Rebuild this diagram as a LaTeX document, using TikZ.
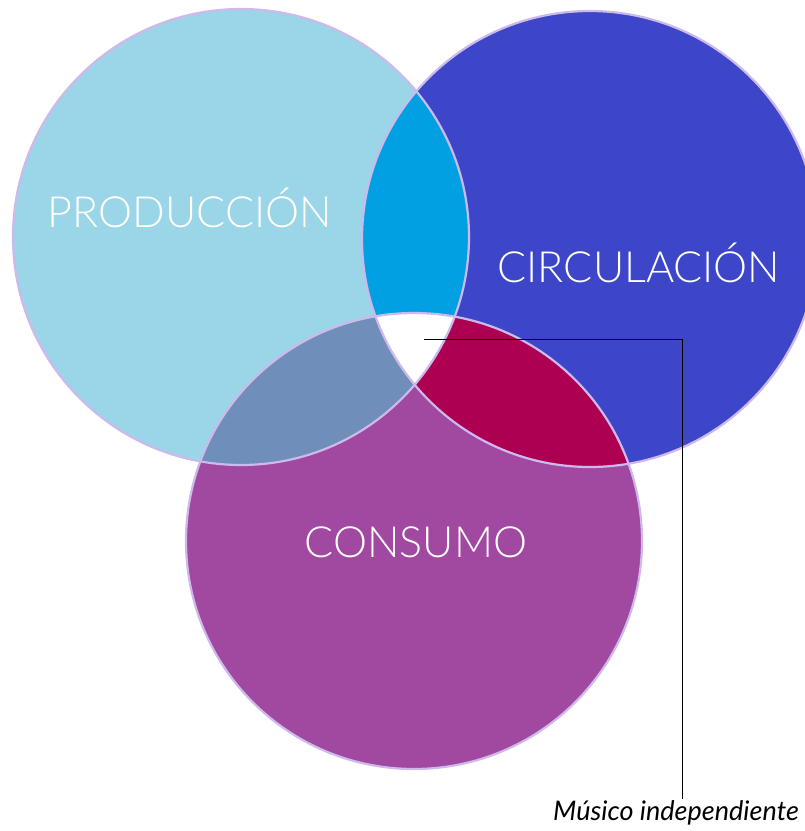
\documentclass[tikz,border=0pt]{standalone}
\usepackage{fontspec}
\setmainfont{Lato}
\newfontfamily\thinfont{Lato Light}
\usepackage{tikz}
\usetikzlibrary{positioning}
\definecolor{prodcol}{RGB}{154,213,232}
\definecolor{circcol}{RGB}{61,70,200}
\definecolor{conscol}{RGB}{161,72,160}
\definecolor{pccol}{RGB}{0,160,227}
\definecolor{pkcol}{RGB}{111,143,186}
\definecolor{ckcol}{RGB}{173,0,82}
\definecolor{rimcol}{RGB}{205,185,235}
\tikzset{rim/.style={draw=rimcol,line width=2.2pt},
         lbl/.style={text=white,font=\thinfont\fontsize{43}{43}\selectfont,inner sep=0pt},
         note/.style={font=\itshape\fontsize{27}{27}\selectfont,inner sep=2pt}}

\begin{document}
\begin{tikzpicture}[x=1pt,y=-1pt]
        \useasboundingbox (0,0) rectangle (805,831);
        \coordinate (p) at (241,237);
        \coordinate (c) at (590,239);
        \coordinate (k) at (414,541);

        % base circles
        \fill[prodcol] (p) circle (228);
        \fill[circcol] (c) circle (228);
        \fill[conscol] (k) circle (228);

        % overlaps
        \begin{scope}
            \clip (p) circle (228);
            \fill[pccol] (c) circle (228);
            \fill[pkcol] (k) circle (228);
        \end{scope}
        \begin{scope}
            \clip (c) circle (228);
            \fill[ckcol] (k) circle (228);
        \end{scope}
        \begin{scope}
            \clip (p) circle (228);
            \clip (c) circle (228);
            \fill[white] (k) circle (228);
        \end{scope}

        \draw[rim] (p) circle (228);
        \draw[rim] (c) circle (228);
        \draw[rim] (k) circle (228);

        \node[lbl] (prod) at (190,208) {PRODUCCIÓN};
        \node[lbl] (circ) at (639,263) {CIRCULACIÓN};
        \node[lbl] (cons) at (416,542) {CONSUMO};

        % leader to the centre
        \coordinate (tip) at (424,339);
        \coordinate (bend) at (682,339);
        \node[note] (musico) at (676,813) {Músico independiente};
        \draw[line width=0.8pt] (tip) -- (bend) -- (bend |- musico.north);
    \end{tikzpicture}
\end{document}
